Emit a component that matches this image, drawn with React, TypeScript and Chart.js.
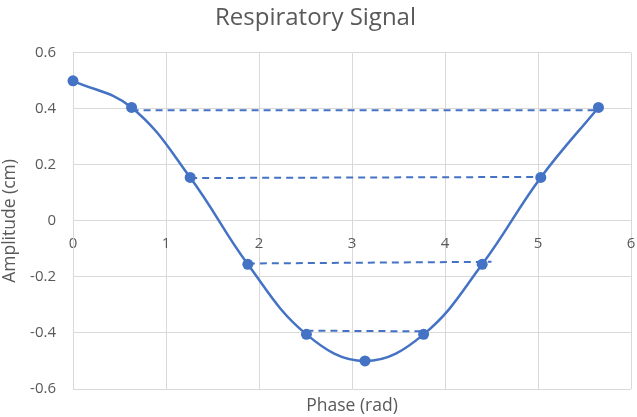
import React, { useEffect, useRef } from "react";
import { Chart, registerables } from "chart.js";

Chart.register(...registerables);

const phase = [0, 0.63, 1.26, 1.88, 2.51, 3.14, 3.77, 4.4, 5.03, 5.65];
const amplitude = [0.5, 0.405, 0.155, -0.155, -0.405, -0.5, -0.405, -0.155, 0.155, 0.405];

const dash1X = [0.63, 5.65];
const dash1Y = [0.395, 0.395];
const dash2X = [1.26, 5.03];
const dash2Y = [0.153, 0.157];
const dash3X = [1.88, 4.5];
const dash3Y = [-0.152, -0.146];
const dash4X = [2.51, 3.77];
const dash4Y = [-0.392, -0.394];

const xTicks = [0, 1, 2, 3, 4, 5, 6];
const yTicks = [-0.6, -0.4, -0.2, 0, 0.2, 0.4, 0.6];

const BLUE = "#4472C4";
const GRID = "#d9d9d9";
const TEXT = "#595959";
const FONT = "'Open Sans', sans-serif";

const pts = (xs: number[], ys: number[]) => xs.map((x, i) => ({ x, y: ys[i] }));

const dashSet = (xs: number[], ys: number[]) => ({
  data: pts(xs, ys),
  showLine: true,
  borderColor: BLUE,
  borderWidth: 2,
  borderDash: [7, 5],
  pointRadius: 0,
  tension: 0,
  clip: false as const,
});

export default function App() {
  const ref = useRef<HTMLCanvasElement>(null);
  useEffect(() => {
    if (!ref.current) return;
    const chart = new Chart(ref.current, {
      type: "scatter",
      data: {
        datasets: [
          {
            data: pts(phase, amplitude),
            showLine: true,
            borderColor: BLUE,
            backgroundColor: BLUE,
            borderWidth: 2.5,
            pointRadius: 5.5,
            pointBorderWidth: 0,
            pointBackgroundColor: BLUE,
            tension: 0.4,
            clip: false as const,
          },
          dashSet(dash1X, dash1Y),
          dashSet(dash2X, dash2Y),
          dashSet(dash3X, dash3Y),
          dashSet(dash4X, dash4Y),
        ],
      },
      options: {
        animation: false,
        responsive: false,
        layout: { padding: { left: 0, right: 6, top: 0, bottom: 0 } },
        plugins: {
          legend: { display: false },
          tooltip: { enabled: false },
          title: {
            display: true,
            text: "Respiratory Signal",
            color: TEXT,
            font: { family: FONT, size: 24, weight: "normal" },
            padding: { top: 4, bottom: 20 },
          },
        },
        scales: {
          x: {
            type: "linear",
            min: 0,
            max: 6,
            position: { y: 0 } as any,
            afterBuildTicks: (s: any) => {
              s.ticks = xTicks.map((v) => ({ value: v }));
            },
            afterFit: (s: any) => {
              s.paddingLeft = 0;
              s.paddingRight = 0;
            },
            grid: { color: GRID, lineWidth: 1, drawTicks: false },
            border: { color: GRID, width: 1 },
            ticks: {
              color: TEXT,
              font: { family: FONT, size: 15 },
              padding: 14,
              maxRotation: 0,
            },
          },
          x2: {
            type: "linear",
            axis: "x",
            min: 0,
            max: 6,
            position: "bottom",
            grid: { display: false, drawTicks: false },
            border: { display: false },
            ticks: { display: false },
            title: {
              display: true,
              text: "Phase (rad)",
              color: TEXT,
              font: { family: FONT, size: 17.5 },
              padding: { top: 0, bottom: 0 },
            },
            afterFit: (s: any) => {
              s.height = 28;
              s.paddingLeft = 0;
              s.paddingRight = 0;
            },
          },
          y: {
            type: "linear",
            min: -0.6,
            max: 0.6,
            afterBuildTicks: (s: any) => {
              s.ticks = yTicks.map((v) => ({ value: v }));
            },
            grid: { color: GRID, lineWidth: 1, drawTicks: false },
            border: { color: GRID, width: 1 },
            ticks: {
              color: TEXT,
              font: { family: FONT, size: 15 },
              padding: 17,
              callback: (v: any) => String(Math.round(Number(v) * 10) / 10),
            },
            title: {
              display: true,
              text: "Amplitude (cm)",
              color: TEXT,
              font: { family: FONT, size: 17.5 },
              padding: { top: 0, bottom: 0 },
            },
            afterFit: (s: any) => {
              s.width = 73;
            },
          },
        },
      },
    });
    return () => chart.destroy();
  }, []);
  return (
    <div style={{ position: "fixed", left: 0, top: 0, width: 637, height: 417, background: "#fff" }}>
      <canvas ref={ref} width={637} height={417} style={{ display: "block" }} />
    </div>
  );
}
